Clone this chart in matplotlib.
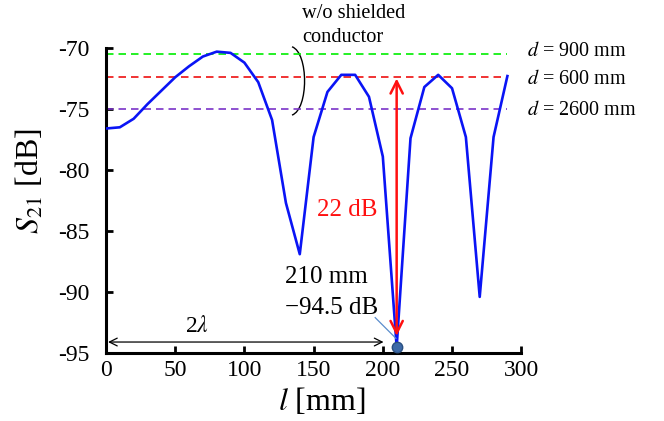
import matplotlib
matplotlib.use("Agg")
import matplotlib.pyplot as plt
from matplotlib.path import Path
from matplotlib.patches import PathPatch

plt.rcParams['font.family'] = ['Liberation Serif', 'DejaVu Serif']
plt.rcParams['mathtext.fontset'] = 'stix'

# Data
l_mm = [0, 10, 20, 30, 40, 50, 60, 70, 80, 90, 100, 110, 120, 130, 140,
        150, 160, 170, 180, 190, 200, 210, 220, 230, 240, 250, 260, 270, 280, 290]
s21_db = [-76.6, -76.5, -75.8, -74.6, -73.5, -72.4, -71.5, -70.7, -70.3, -70.4,
          -71.2, -72.8, -75.9, -82.7, -86.9, -77.3, -73.6, -72.2, -72.2, -74.0,
          -78.9, -94.5, -77.4, -73.2, -72.2, -73.3, -77.3, -90.4, -77.3, -72.3]
ref_levels = [-70.5, -72.4, -75.0]
ref_labels = ['$d$ = 900 mm', '$d$ = 600 mm', '$d$ = 2600 mm']
ref_colors = ['#00ee00', '#ee1111', '#7a33c8']
min_l, min_db = 210, -94.5
x_ticks = [0, 50, 100, 150, 200, 250, 300]
y_ticks = [-95, -90, -85, -80, -75, -70]

fig = plt.figure(figsize=(6.64, 4.21), dpi=100)
ax = fig.add_axes([0.1596, 0.1615, 0.6254, 0.7245])

for lev, col in zip(ref_levels, ref_colors):
    ax.plot([0, 290], [lev, lev], color=col, lw=1.2, dashes=(4.5, 3))
ax.plot(l_mm, s21_db, color='#0a14f5', lw=1.9, zorder=3)

# labels of reference lines
for lev, lab in zip([-70.3, -72.6, -75.1], ref_labels):
    ax.text(1.015, lev, lab, transform=ax.get_yaxis_transform(), fontsize=14.5,
            va='center', ha='left')

# red double arrow
ax.annotate('', xy=(210, -72.5), xytext=(210, -93.6),
            arrowprops=dict(arrowstyle='<->', color='#ff1010', lw=1.8,
                            mutation_scale=22, shrinkA=0, shrinkB=0), zorder=4)
ax.text(174, -83.3, '22 dB', color='#ff1010', fontsize=18, ha='center', va='center')

# minimum point
ax.plot([min_l], [min_db], 'o', ms=7.5, color='#3d6aa8', mec='#2a4f80', zorder=5, clip_on=False)
ax.plot([194.5, 209.5], [-92.1, -93.8], color='#5a8ccc', lw=0.9, zorder=4)
ax.text(129.6, -88.8, '210 mm', fontsize=18, ha='left', va='center')
ax.text(129.6, -91.3, '\u221294.5 dB', fontsize=18, ha='left', va='center')

# 2 lambda arrow
ax.annotate('', xy=(1.5, -94.1), xytext=(200.5, -94.1),
            arrowprops=dict(arrowstyle='<->', color='black', lw=0.9,
                            mutation_scale=14, shrinkA=0, shrinkB=0))
ax.text(66, -92.8, '2$\\lambda$', fontsize=17, ha='center', va='center')

# brace
verts = [(134.4, -69.9), (146.5, -70.4), (146.5, -75.0), (134.4, -75.5)]
codes = [Path.MOVETO, Path.CURVE4, Path.CURVE4, Path.CURVE4]
ax.add_patch(PathPatch(Path(verts, codes), fill=False, lw=1.0, color='black', clip_on=False))
fig.text(302 / 664, 1 - 13 / 421, 'w/o shielded', fontsize=14.7, ha='left', va='center')
fig.text(302 / 664, 1 - 37 / 421, 'conductor', fontsize=14.7, ha='left', va='center')

ax.set_xlim(0, 300)
ax.set_ylim(-95, -70)
ax.set_xticks(x_ticks)
ax.set_yticks(y_ticks)
ax.set_yticklabels([str(v) for v in y_ticks])
for s in ['top', 'right']:
    ax.spines[s].set_visible(False)
for s in ['left', 'bottom']:
    ax.spines[s].set_linewidth(2.2)
ax.tick_params(direction='in', length=5, width=2, labelsize=17)
ax.tick_params(axis='x', pad=5)
ax.tick_params(axis='y', pad=12)

fig.text(322 / 664, 1 - 401 / 421, '$l$ [mm]', fontsize=23, ha='center', va='center')
fig.text(30 / 664, 1 - 181 / 421, '$S_{21}$ [dB]', fontsize=23, ha='center', va='center',
         rotation=90)

fig.savefig('out.png', dpi=100)
